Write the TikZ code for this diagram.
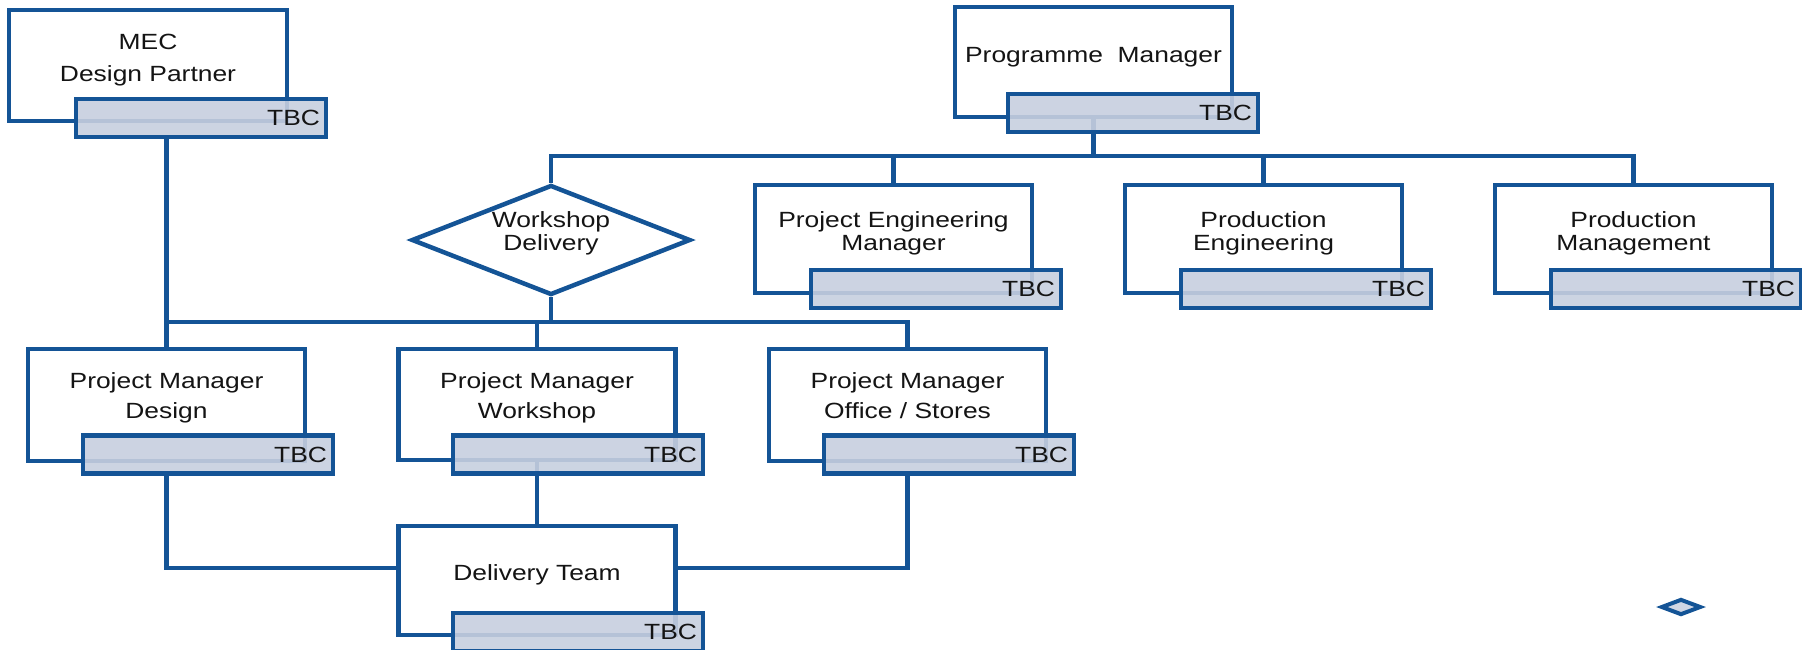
\documentclass[tikz,border=0pt]{standalone}
\usepackage{fontspec}
\newfontfamily\lab{Liberation Sans}[FakeStretch=1.2]
\usetikzlibrary{shapes.geometric}
\definecolor{bblue}{RGB}{20,84,150}
\definecolor{tbcfill}{RGB}{199,207,223}
\definecolor{smallfill}{RGB}{208,214,228}
\definecolor{textc}{RGB}{20,20,20}
\pgfdeclarelayer{bg}
\pgfsetlayers{bg,main}
\begin{document}
\begin{tikzpicture}[x=1pt,y=-1pt,
  mainbox/.style={draw=bblue, line width=4.5pt, fill=white, minimum width=277pt, minimum height=110pt, inner sep=0pt},
  tbcbox/.style={draw=bblue, line width=4.5pt, fill=tbcfill, fill opacity=0.9, text opacity=1, draw opacity=1,
     minimum width=250pt, minimum height=38pt, inner xsep=6pt, inner ysep=0pt, text width=238pt, align=right,
     text=textc, font=\lab\fontsize{22}{23}\selectfont},
  lblA/.style={anchor=north, inner sep=0pt, align=center, text=textc, font=\lab\fontsize{22}{23}\selectfont},
  lblB/.style={anchor=north, inner sep=0pt, align=center, text=textc, font=\lab\fontsize{22}{31}\selectfont},
  conn/.style={draw=bblue, line width=4.5pt}
]
\useasboundingbox (0,0) rectangle (1802,649);

% top left
\node[mainbox, minimum width=278pt, minimum height=111pt] (mec) at (148,65.5) {};
\node[lblB, font=\lab\fontsize{22}{32}\selectfont] (mec-t) at (148,34) {MEC\\Design Partner};
\node[tbcbox] (mec-tbc) at (201,118) {TBC};

% programme manager
\node[mainbox] (prog) at (1093.5,62) {};
\node[lblA] (prog-t) at (1093.5,47) {Programme\ \ Manager};
\node[tbcbox] (prog-tbc) at (1133,113) {TBC};

% row 1
\node[mainbox, minimum height=108pt] (pem) at (893.5,239) {};
\node[lblA] (pem-t) at (893.5,211) {Project Engineering\\Manager};
\node[tbcbox] (pem-tbc) at (936,289) {TBC};

\node[mainbox, minimum height=108pt] (pe) at (1263.5,239) {};
\node[lblA] (pe-t) at (1263.5,211) {Production\\Engineering};
\node[tbcbox] (pe-tbc) at (1306,289) {TBC};

\node[mainbox, minimum height=108pt] (pmg) at (1633.5,239) {};
\node[lblA] (pmg-t) at (1633.5,211) {Production\\Management};
\node[tbcbox] (pmg-tbc) at (1676,289) {TBC};

% workshop delivery diamond
\node[diamond, draw=bblue, line width=4.5pt, fill=white, minimum width=279pt, minimum height=110pt, inner sep=0pt] (wd) at (551,240) {};
\node[lblA] (wd-t) at (551,211) {Workshop\\Delivery};

% row 2
\node[mainbox, minimum height=112pt] (pmd) at (166.5,405) {};
\node[lblB, font=\lab\fontsize{22}{30}\selectfont] (pmd-t) at (166.5,372) {Project Manager\\Design};
\node[tbcbox] (pmd-tbc) at (208,454.5) {TBC};

\node[mainbox, minimum height=111pt] (pmw) at (537,404.5) {};
\node[lblB, font=\lab\fontsize{22}{30}\selectfont] (pmw-t) at (537,372) {Project Manager\\Workshop};
\node[tbcbox] (pmw-tbc) at (578,454.5) {TBC};

\node[mainbox, minimum height=112pt] (pmo) at (907.5,405) {};
\node[lblB, font=\lab\fontsize{22}{30}\selectfont] (pmo-t) at (907.5,372) {Project Manager\\Office / Stores};
\node[tbcbox] (pmo-tbc) at (949,454.5) {TBC};

% delivery team
\node[mainbox, minimum height=109pt] (del) at (537,580.5) {};
\node[lblA] (del-t) at (537,564) {Delivery Team};
\node[tbcbox] (del-tbc) at (578,632) {TBC};

% small diamond
\node[diamond, draw=bblue, line width=4pt, fill=smallfill, minimum width=40pt, minimum height=16pt, inner sep=0pt] (sd) at (1681,607) {};

\coordinate (busT) at (0,156);
\coordinate (busB) at (0,322);
\coordinate (dly) at (0,568);

\begin{pgfonlayer}{bg}
\draw[conn] (prog.south) -- (prog.south |- busT);
\draw[conn] (wd.north) -- (wd.north |- busT) -- (pmg.north |- busT) -- (pmg.north);
\draw[conn] (pem.north |- busT) -- (pem.north);
\draw[conn] (pe.north |- busT) -- (pe.north);
\draw[conn] (mec-tbc.south -| pmd.north) -- (pmd.north);
\draw[conn] (pmd.north |- busB) -- (pmo.north |- busB) -- (pmo.north);
\draw[conn] (wd.south) -- (wd.south |- busB);
\draw[conn] (pmw.north |- busB) -- (pmw.north);
\draw[conn] (pmw.south) -- (del.north);
\draw[conn] (pmd-tbc.south -| pmd.north) -- (pmd.north |- dly) -- (del.west |- dly);
\draw[conn] (pmo-tbc.south -| pmo.north) -- (pmo.north |- dly) -- (del.east |- dly);
\end{pgfonlayer}
\end{tikzpicture}
\end{document}
